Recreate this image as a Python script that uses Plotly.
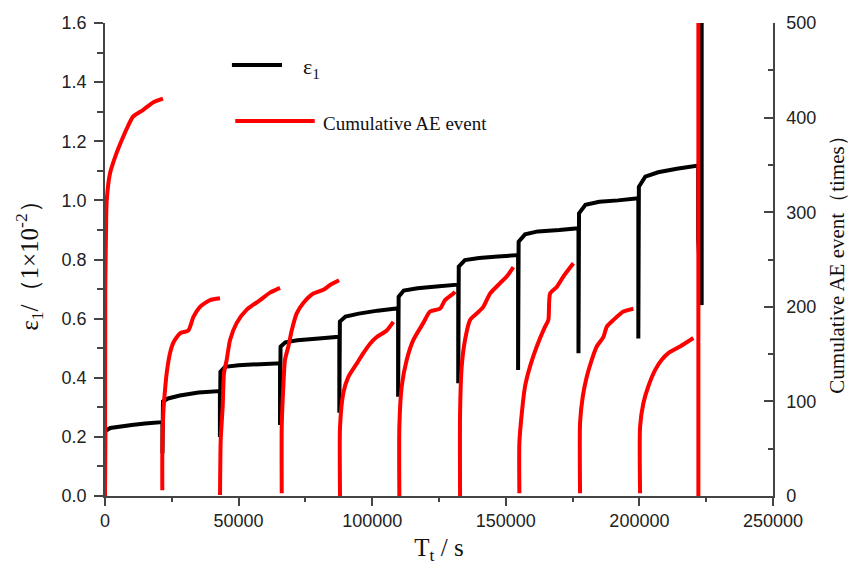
import plotly.graph_objects as go

# ---------------- data ----------------
# Axial strain eps1 (1e-2), one list per loading stage (time in s)
strain_time = [
    [0, 100, 2000, 5000, 10000, 15000, 21400],
    [21500, 21500, 21700, 23600, 28000, 35000, 42600],
    [43000, 43000, 43200, 44900, 50000, 58000, 65300],
    [65500, 65500, 65700, 67500, 72000, 80000, 87300],
    [87700, 87700, 87900, 90000, 95000, 102000, 109500],
    [109700, 109700, 109900, 111800, 117000, 124000, 131800],
    [132200, 132200, 132400, 134700, 140000, 147000, 154300],
    [154600, 154600, 154800, 157200, 162000, 170000, 177000],
    [177200, 177200, 177400, 179800, 185000, 192000, 199000],
    [199600, 199600, 199800, 202200, 207000, 214000, 222000],
    [222000, 223300, 223300],
]
strain_value = [
    [0.0, 0.22, 0.23, 0.235, 0.24, 0.245, 0.25],
    [0.25, 0.145, 0.32, 0.33, 0.34, 0.35, 0.355],
    [0.355, 0.20, 0.42, 0.437, 0.442, 0.446, 0.449],
    [0.449, 0.24, 0.505, 0.52, 0.527, 0.533, 0.539],
    [0.539, 0.282, 0.59, 0.607, 0.617, 0.627, 0.635],
    [0.635, 0.336, 0.674, 0.695, 0.703, 0.709, 0.715],
    [0.715, 0.381, 0.776, 0.798, 0.805, 0.81, 0.815],
    [0.815, 0.426, 0.86, 0.885, 0.895, 0.90, 0.906],
    [0.906, 0.483, 0.956, 0.985, 0.995, 1.0, 1.007],
    [1.007, 0.533, 1.046, 1.08, 1.095, 1.107, 1.118],
    [0.87, 0.646, 1.70],
]

# Cumulative AE events (times), one list per loading stage
ae_time = [
    [0, 100, 374, 640, 1870, 3740, 6250, 8600, 10480, 14200, 17970, 21700],
    [21450, 21450, 21820, 22460, 23090, 24330, 25560, 28070, 31180, 33050, 35560, 39300, 43050],
    [43050, 43300, 44050, 44540, 45550, 46800, 49300, 53050, 58020, 61760, 65500],
    [66140, 66140, 66740, 67370, 68610, 69880, 71750, 74220, 77970, 81710, 84220, 87590],
    [87960, 87960, 89200, 91070, 94210, 96680, 99190, 101700, 105440, 107910],
    [110160, 110160, 111050, 112930, 115400, 119140, 121650, 125390, 127260, 130370, 131000],
    [132880, 132880, 133500, 134750, 136620, 139130, 141590, 144100, 147850, 150350, 152840],
    [155080, 155080, 155970, 157210, 159080, 161590, 164690, 165930, 166570, 169070, 171540, 175290],
    [177790, 177790, 178800, 180300, 182170, 184040, 186510, 187800, 190260, 194000, 197750],
    [200250, 200250, 201480, 203360, 205870, 208370, 210840, 215210, 220200],
    [222070, 222070],
]
ae_value = [
    [0, 218, 278, 312, 341, 358, 376, 391, 401, 408, 416, 420],
    [6, 45, 88, 112, 130, 151, 162, 172, 175, 189, 200, 207, 209],
    [1, 59, 95, 130, 144, 165, 183, 197, 207, 215, 220],
    [3, 73, 116, 144, 158, 175, 193, 204, 214, 218, 223, 228],
    [0, 73, 109, 126, 140, 151, 161, 168, 175, 184],
    [0, 73, 116, 144, 165, 183, 195, 198, 207, 214, 216],
    [0, 87, 137, 165, 186, 193, 200, 214, 225, 232, 242],
    [3, 56, 87, 116, 137, 158, 179, 186, 214, 221, 232, 246],
    [3, 77, 105, 126, 144, 158, 168, 179, 186, 195, 198],
    [3, 73, 98, 116, 133, 144, 151, 158, 167],
    [0, 500],
]

x_ticks = [0, 50000, 100000, 150000, 200000, 250000]
y_ticks = [0.0, 0.2, 0.4, 0.6, 0.8, 1.0, 1.2, 1.4, 1.6]
y2_ticks = [0, 100, 200, 300, 400, 500]

# ---------------- build series ----------------
sx, sy = [], []
for t, v in zip(strain_time, strain_value):
    sx += t
    sy += v

fig = go.Figure()
for i, (t, v) in enumerate(zip(ae_time, ae_value)):
    fig.add_trace(go.Scatter(x=t, y=v, mode="lines", yaxis="y2",
                             name="Cumulative AE event", legendgroup="ae",
                             line=dict(color="#ff0000", width=4, shape="spline", smoothing=0.6),
                             showlegend=False))
fig.add_trace(go.Scatter(x=sx, y=sy, mode="lines", name="ε1",
                         line=dict(color="#000000", width=4),
                         showlegend=False))

axis_col = "#444444"
tick_font = dict(family="Liberation Sans, Arial", size=18, color="#222222")
serif = "Liberation Serif, Times New Roman, serif"

fig.update_layout(
    width=861, height=575,
    margin=dict(l=105, r=88, t=23, b=79),
    paper_bgcolor="white", plot_bgcolor="white",
    xaxis=dict(
        range=[0, 250000], tickvals=x_ticks, ticktext=[str(v) for v in x_ticks],
        showgrid=False, zeroline=False, showline=True, linecolor=axis_col, linewidth=1.5,
        ticks="outside", ticklen=8, tickwidth=1.5, tickcolor=axis_col,
        minor=dict(dtick=25000, ticks="outside", ticklen=4, tickwidth=1.5, tickcolor=axis_col),
        tickfont=tick_font,
        title=dict(text="T<sub>t</sub> / s", font=dict(family=serif, size=25, color="#111"), standoff=8),
    ),
    yaxis=dict(
        range=[0, 1.6], tickvals=y_ticks, ticktext=[f"{v:.1f}" for v in y_ticks],
        showgrid=False, zeroline=False, showline=True, linecolor=axis_col, linewidth=1.5,
        ticks="outside", ticklen=9, tickwidth=1.5, tickcolor=axis_col,
        minor=dict(dtick=0.1, ticks="outside", ticklen=6, tickwidth=1.5, tickcolor=axis_col),
        tickfont=tick_font, ticklabelstandoff=4,
        title=dict(text="ε<sub>1</sub>/（1×10<sup>-2</sup>）",
                   font=dict(family=serif, size=25, color="#111"), standoff=16),
    ),
    yaxis2=dict(
        range=[0, 500], tickvals=y2_ticks, ticktext=[str(v) for v in y2_ticks],
        overlaying="y", side="right",
        showgrid=False, zeroline=False, showline=True, linecolor=axis_col, linewidth=1.5,
        ticks="inside", ticklen=9, tickwidth=1.5, tickcolor=axis_col,
        minor=dict(dtick=50, ticks="inside", ticklen=5, tickwidth=1.5, tickcolor=axis_col),
        tickfont=tick_font, ticklabelstandoff=8,
        title=dict(text="Cumulative AE event（times）",
                   font=dict(family=serif, size=21, color="#111"), standoff=14),
    ),
    showlegend=False,
)

# custom legend (line samples + labels) in paper coordinates
fig.add_shape(type="line", xref="paper", yref="paper", x0=0.19, x1=0.265, y0=0.911, y1=0.911,
              line=dict(color="#000000", width=4))
fig.add_shape(type="line", xref="paper", yref="paper", x0=0.195, x1=0.314, y0=0.793, y1=0.793,
              line=dict(color="#ff0000", width=4))
fig.add_annotation(xref="paper", yref="paper", x=0.293, y=0.905, xanchor="left", yanchor="middle",
                   text="ε<sub>1</sub>", showarrow=False,
                   font=dict(family=serif, size=22, color="#111"))
fig.add_annotation(xref="paper", yref="paper", x=0.324, y=0.787, xanchor="left", yanchor="middle",
                   text="Cumulative AE event", showarrow=False,
                   font=dict(family=serif, size=19, color="#111"))

fig.write_html("out.html")
